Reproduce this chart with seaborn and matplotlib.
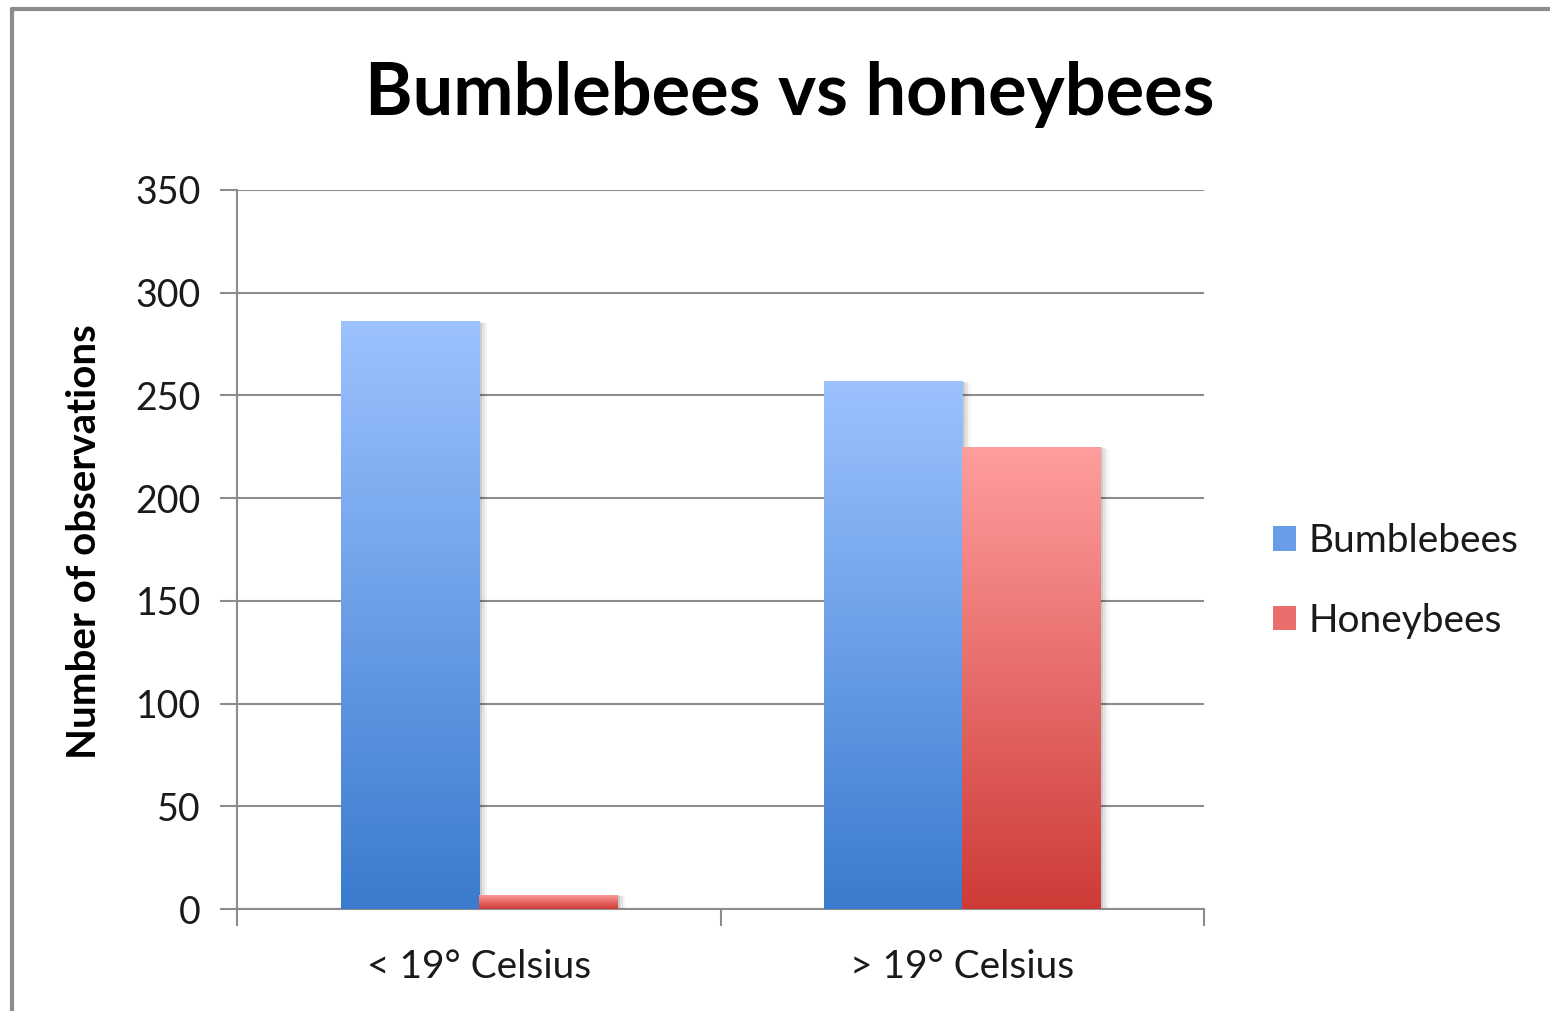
import numpy as np
import pandas as pd
import matplotlib
matplotlib.use("Agg")
import matplotlib.pyplot as plt
from matplotlib.colors import LinearSegmentedColormap
from matplotlib.patches import Patch, Rectangle
import seaborn as sns

categories = ["< 19° Celsius", "> 19° Celsius"]
series = ["Bumblebees", "Honeybees"]
bumblebees = [286, 257]
honeybees = [7, 225]
yticks = [0, 50, 100, 150, 200, 250, 300, 350]

df = pd.DataFrame({
    "cat": categories * 2,
    "series": [series[0]] * 2 + [series[1]] * 2,
    "val": bumblebees + honeybees,
})

sns.set_theme(style="white")
plt.rcParams["font.family"] = ["Lato", "DejaVu Sans"]

top_cols = {"Bumblebees": "#9CC2FF", "Honeybees": "#FF9E9E"}
bot_cols = {"Bumblebees": "#3A7BCE", "Honeybees": "#CE3B37"}
mid_cols = {"Bumblebees": "#6A9DE8", "Honeybees": "#E86E6C"}

fig = plt.figure(figsize=(15.5, 10.11), dpi=100)
ax = fig.add_axes([237 / 1550, 1 - 909 / 1011, (1204 - 237) / 1550, (909 - 190) / 1011])

sns.barplot(data=df, x="cat", y="val", hue="series", order=categories,
            hue_order=series, palette=mid_cols, width=0.571, dodge=True,
            errorbar=None, ax=ax, zorder=3, linewidth=0, legend=False)

# gradient fills per bar
grad = np.linspace(0, 1, 256).reshape(-1, 1)
bars = [p for p in ax.patches if isinstance(p, Rectangle)]
for i, p in enumerate(bars):
    s = series[i // len(categories)]
    cmap = LinearSegmentedColormap.from_list(s, [bot_cols[s], top_cols[s]])
    x0, y0 = p.get_x(), p.get_y()
    w, h = p.get_width(), p.get_height()
    # soft shadow
    for k, a in enumerate([0.10, 0.07, 0.04]):
        sh = Rectangle((x0 + 0.006 * (k + 1), y0), w, h - 0.3 * (k + 1),
                       facecolor="#000000", alpha=a, linewidth=0, zorder=2.5)
        ax.add_patch(sh)
    p.set_facecolor("none")
    im = ax.imshow(grad, extent=[x0, x0 + w, y0, y0 + h], origin="lower",
                   aspect="auto", cmap=cmap, zorder=3.1)
    im.set_clip_path(p)

ax.set_xlim(-0.5, 1.5)
ax.set_ylim(0, 350)
ax.set_yticks(yticks)
ax.set_yticklabels([str(t) for t in yticks])
ax.yaxis.grid(True, color="#8C8C8C", linewidth=1.5)
ax.set_axisbelow(True)
for side in ["top", "right"]:
    ax.spines[side].set_visible(False)
ax.spines["left"].set_color("#8C8C8C")
ax.spines["bottom"].set_color("#8C8C8C")
ax.spines["left"].set_linewidth(1.5)
ax.spines["bottom"].set_linewidth(1.5)

ax.tick_params(axis="y", which="major", left=True, length=12, width=1.5,
               color="#8C8C8C", labelsize=27, pad=14, labelcolor="#1a1a1a")
ax.set_xticks([0, 1])
ax.set_xticklabels(categories)
ax.set_xticks([-0.5, 0.5, 1.5], minor=True)
ax.tick_params(axis="x", which="major", bottom=False, labelsize=28, pad=23,
               labelcolor="#1a1a1a")
ax.tick_params(axis="x", which="minor", bottom=True, length=12, width=1.5,
               color="#8C8C8C")
ax.set_xlabel("")
ax.set_ylabel("")

fig.text(85 / 1550, 1 - 542 / 1011, "Number of observations", rotation=90,
         ha="center", va="center", fontsize=29, fontweight="bold", color="black")
fig.text(790 / 1550, 1 - 95 / 1011, "Bumblebees vs honeybees", ha="center",
         va="center", fontsize=52, fontweight="bold", color="black")

handles = [Patch(facecolor=mid_cols[s], edgecolor="none") for s in series]
fig.legend(handles, series, loc="center left",
           bbox_to_anchor=(1273 / 1550, 1 - 581 / 1011), frameon=False,
           fontsize=28, handlelength=0.6, handleheight=0.6, handletextpad=0.3,
           labelspacing=1.12, borderpad=0, borderaxespad=0, labelcolor="#1a1a1a")

# outer chart border
fig.add_artist(plt.Line2D([12 / 1550, 12 / 1550], [0, 1 - 9 / 1011],
                          transform=fig.transFigure, color="#8C8C8C", linewidth=3))
fig.add_artist(plt.Line2D([12 / 1550, 1], [1 - 9 / 1011, 1 - 9 / 1011],
                          transform=fig.transFigure, color="#8C8C8C", linewidth=3))

fig.savefig("out.png", dpi=100, facecolor="white")
